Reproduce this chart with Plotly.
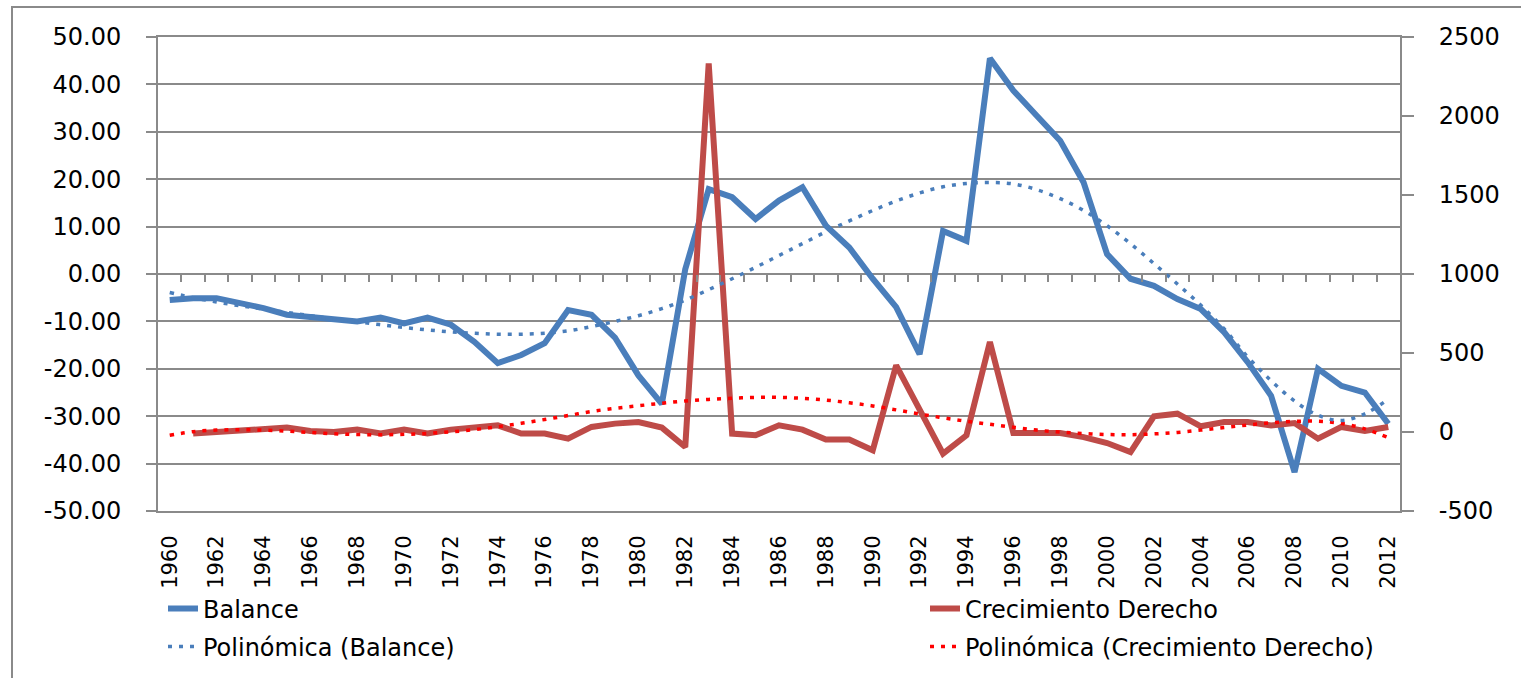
import plotly.graph_objects as go

# ---------------- data ----------------
years = list(range(1960, 2013))

balance = [
    -5.5, -5.1, -5.1, -6.0, -7.2, -8.6, -9.0, -9.5, -10.0, -9.2,
    -10.4, -9.2, -10.7, -14.3, -18.8, -17.1, -14.6, -7.6, -8.6, -13.4,
    -21.4, -27.4, 1.0, 17.9, 16.2, 11.6, 15.5, 18.3, 10.2, 5.6,
    -1.0, -7.0, -16.9, 9.1, 7.0, 45.5, 38.7, 33.4, 28.1, 19.3,
    4.2, -1.0, -2.5, -5.3, -7.4, -12.3, -18.6, -25.7, -41.8, -20.0,
    -23.6, -25.0, -31.6,
]

# Crecimiento Derecho starts in 1961
crec_years = years[1:]
crecimiento = [
    -10, 0, 11, 21, 28, 6, 0, 15, -10,
    15, -10, 15, 28, 42, -10, -10, -42, 32, 53,
    63, 28, -95, 2332, -10, -21, 42, 15, -48, -48,
    -116, 422, 137, -137, -21, 570, -6, -6, -6, -32,
    -70, -127, 99, 116, 36, 63, 63, 42, 57, -42,
    32, 6, 32,
]

# polynomial trend lines as they appear in the picture
pol_balance = [
    -3.9, -5.0, -5.9, -6.7, -7.4, -8.1, -8.8, -9.5, -10.1, -10.7,
    -11.3, -11.8, -12.2, -12.5, -12.7, -12.7, -12.5, -12.0, -11.1, -10.0,
    -8.8, -7.3, -5.5, -3.3, -1.0, 1.4, 3.9, 6.4, 8.9, 11.2,
    13.4, 15.4, 17.1, 18.4, 19.1, 19.3, 19.0, 17.8, 15.9, 13.4,
    10.2, 6.4, 2.2, -2.1, -6.6, -11.6, -17.5, -22.5, -26.8, -29.8,
    -30.9, -29.5, -26.4,
]

pol_crec = [
    -21, 2, 12, 14, 12, 6, -3, -11, -16, -17,
    -15, -9, 1, 15, 33, 55, 79, 104, 130, 150,
    166, 182, 196, 206, 214, 219, 219, 213, 202, 185,
    165, 140, 114, 90, 68, 49, 30, 12, -1, -10,
    -16, -17, -12, -3, 12, 28, 44, 58, 67, 68,
    54, 20, -36,
]

left_ticks = [-50, -40, -30, -20, -10, 0, 10, 20, 30, 40, 50]
right_ticks = [-500, 0, 500, 1000, 1500, 2000, 2500]
x_label_years = years[::2]

# ---------------- styling ----------------
BLUE = "#4A7EBB"
RED = "#BE4B48"
TREND_RED = "#FF0000"
GRID = "#8A8A8A"
FONT = "DejaVu Sans"
W, H = 1521, 678
L, R, T, B = 158, 121, 37, 167

fig = go.Figure()

fig.add_trace(go.Scatter(
    x=years, y=balance, name="Balance", mode="lines",
    line=dict(color=BLUE, width=6), legend="legend",
))
fig.add_trace(go.Scatter(
    x=years, y=pol_balance, name="Polinómica (Balance)", mode="lines",
    line=dict(color=BLUE, width=3.5, dash="4px,7px", shape="spline"),
    xaxis="x2", legend="legend3",
))
fig.add_trace(go.Scatter(
    x=crec_years, y=crecimiento, name="Crecimiento Derecho", mode="lines",
    line=dict(color=RED, width=6), yaxis="y2", legend="legend2",
))
fig.add_trace(go.Scatter(
    x=years, y=pol_crec, name="Polinómica (Crecimiento Derecho)", mode="lines",
    line=dict(color=TREND_RED, width=3.5, dash="4px,7px", shape="spline"),
    yaxis="y2", legend="legend4",
))

xrange = [years[0] - 0.5, years[-1] + 0.5]
lrange = [left_ticks[0], left_ticks[-1]]
rrange = [right_ticks[0], right_ticks[-1]]

def legend_at(xpix, ypix):
    return dict(
        xref="container", yref="container",
        x=xpix / W, y=1 - ypix / H, xanchor="left", yanchor="middle",
        orientation="h", bgcolor="rgba(0,0,0,0)",
        font=dict(family=FONT, size=24, color="black"),
    )

fig.update_layout(
    width=W, height=H,
    margin=dict(l=L, r=R, t=T, b=B, autoexpand=False),
    paper_bgcolor="white", plot_bgcolor="white",
    hovermode=False,
    font=dict(family=FONT, color="black"),
    xaxis=dict(
        type="linear", range=xrange,
        tickmode="array", tickvals=x_label_years,
        ticktext=[str(y) for y in x_label_years],
        tickangle=-90, ticks="", showgrid=False, zeroline=False,
        showline=True, mirror=True, linecolor=GRID, linewidth=2,
        tickfont=dict(family=FONT, size=21, color="black"),
        ticklabelstandoff=14,
    ),
    xaxis2=dict(
        type="linear", range=xrange, overlaying="x", anchor="free",
        position=(0 - lrange[0]) / (lrange[1] - lrange[0]),
        tickmode="array", tickvals=[y + 0.5 for y in years[:-1]],
        ticks="outside", ticklen=7, tickwidth=2, tickcolor=GRID,
        showticklabels=False, showgrid=False, zeroline=False, showline=False,
    ),
    yaxis=dict(
        range=lrange, tickmode="array", tickvals=left_ticks,
        ticktext=[f"{v:.2f}" for v in left_ticks],
        ticks="outside", ticklen=10, tickwidth=2, tickcolor=GRID,
        showgrid=True, gridcolor=GRID, gridwidth=2, zeroline=False,
        showline=True, linecolor=GRID, linewidth=2,
        tickfont=dict(family=FONT, size=24, color="black"),
        ticklabelstandoff=20,
    ),
    yaxis2=dict(
        range=rrange, overlaying="y", side="right",
        tickmode="array", tickvals=right_ticks,
        ticktext=[str(v) for v in right_ticks],
        ticks="outside", ticklen=12, tickwidth=2, tickcolor=GRID,
        showgrid=False, zeroline=False,
        showline=True, linecolor=GRID, linewidth=2,
        tickfont=dict(family=FONT, size=24, color="black"),
        ticklabelstandoff=20,
    ),
    legend=legend_at(163, 609),
    legend2=legend_at(925, 609),
    legend3=legend_at(163, 647),
    legend4=legend_at(925, 647),
    showlegend=True,
)

# outer chart border (partly cropped in the reference)
pw, ph = W - L - R, H - T - B
fig.add_shape(
    type="rect", xref="paper", yref="paper",
    x0=(12 - L) / pw, x1=(W + 20 - L) / pw,
    y0=-(H + 20 - T - ph) / ph, y1=(H - 7 - B) / ph,
    line=dict(color=GRID, width=2), fillcolor="rgba(0,0,0,0)", layer="below",
)

fig.write_html("out.html", config={"displayModeBar": False},
               post_script="document.body.style.margin='0';")
